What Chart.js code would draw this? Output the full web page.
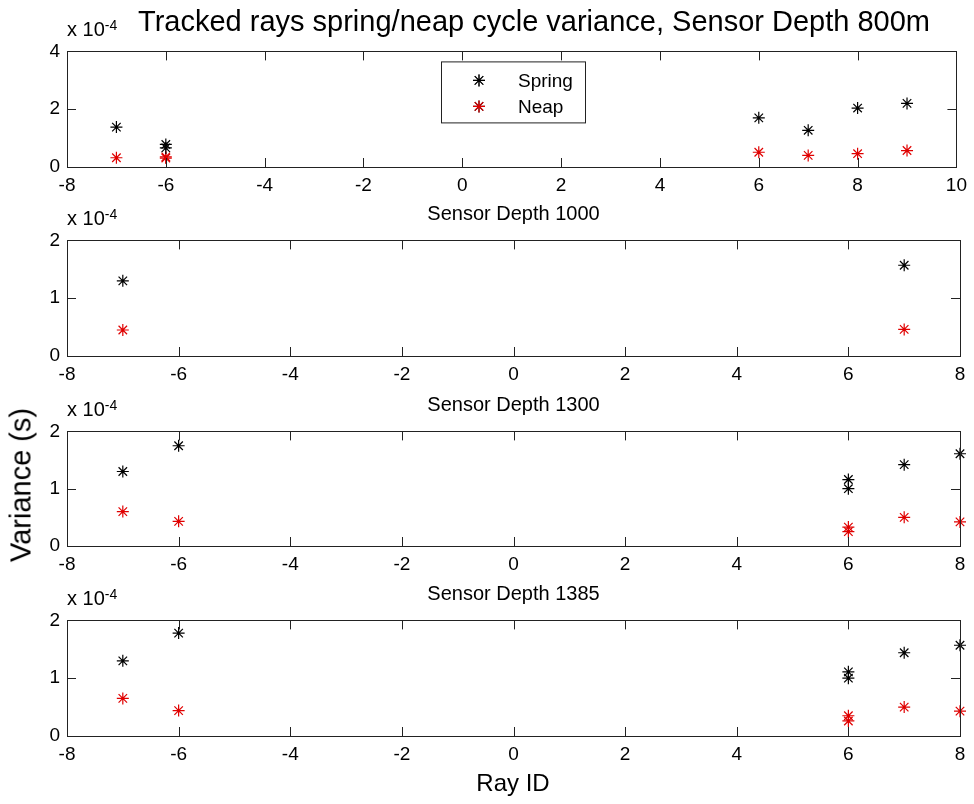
<!DOCTYPE html>
<html>
<head>
<meta charset="utf-8">
<script src="https://cdn.jsdelivr.net/npm/chart.js@4/dist/chart.umd.min.js"></script>
<style>
  html, body { margin: 0; padding: 0; background: #fff; }
  #fig { position: relative; width: 974px; height: 804px; overflow: hidden; font-family: "Liberation Sans", Arial, sans-serif; color: #000; }
  #fig canvas { position: absolute; left: 0; }
  .txt { position: absolute; white-space: nowrap; line-height: 1; }
  .center { transform: translate(-50%, -50%); }
  .mult { line-height: 20px; }
  .mult sup { font-size: 14px; position: relative; top: -4px; vertical-align: top; }
</style>
</head>
<body>
<div id="fig"></div>
<script>
// Ray IDs and variances (units of 1e-4 s) per sensor depth
const RAYS_800   = [-7, -6, -6, 6, 7, 8, 9];
const SPRING_800 = [1.38, 0.78, 0.66, 1.70, 1.27, 2.04, 2.20];
const NEAP_800   = [0.32, 0.35, 0.31, 0.51, 0.40, 0.46, 0.57];

const RAYS_1000   = [-7, 7];
const SPRING_1000 = [1.30, 1.57];
const NEAP_1000   = [0.45, 0.46];

const RAYS_1300   = [-7, -6, 6, 6, 7, 8];
const SPRING_1300 = [1.30, 1.75, 1.16, 1.00, 1.42, 1.61];
const NEAP_1300   = [0.60, 0.43, 0.33, 0.25, 0.50, 0.42];

const RAYS_1385   = [-7, -6, 6, 6, 7, 8];
const SPRING_1385 = [1.30, 1.78, 1.11, 1.00, 1.44, 1.57];
const NEAP_1385   = [0.65, 0.44, 0.35, 0.26, 0.50, 0.43];

// tick labels
const X_TICKS_800 = [-8, -6, -4, -2, 0, 2, 4, 6, 8, 10];
const X_TICKS     = [-8, -6, -4, -2, 0, 2, 4, 6, 8];
const Y_TICKS_800 = [0, 2, 4];
const Y_TICKS     = [0, 1, 2];

const MAIN_TITLE = 'Tracked rays spring/neap cycle variance, Sensor Depth 800m';
const SUB_TITLES = [null, 'Sensor Depth 1000', 'Sensor Depth 1300', 'Sensor Depth 1385'];
const SERIES_NAMES = ['Spring', 'Neap'];

const FONT = '"Liberation Sans", Arial, sans-serif';
const W = 974;
const PLOT_LEFT = 67, PLOT_RIGHT = 960;
const PAD_TOP = 14, AXIS_H = 34, TICK_LEN = 9;

const panels = [
  { top: 47,  h: 120, rays: RAYS_800,  spring: SPRING_800,  neap: NEAP_800,  xt: X_TICKS_800, yt: Y_TICKS_800, legend: true },
  { top: 236, h: 120, rays: RAYS_1000, spring: SPRING_1000, neap: NEAP_1000, xt: X_TICKS,     yt: Y_TICKS },
  { top: 427, h: 119, rays: RAYS_1300, spring: SPRING_1300, neap: NEAP_1300, xt: X_TICKS,     yt: Y_TICKS },
  { top: 616, h: 120, rays: RAYS_1385, spring: SPRING_1385, neap: NEAP_1385, xt: X_TICKS,     yt: Y_TICKS }
];

const fig = document.getElementById('fig');

function addText(html, x, y, size, cls, extra) {
  const d = document.createElement('div');
  d.className = 'txt ' + (cls || '');
  d.style.left = x + 'px';
  d.style.top = y + 'px';
  d.style.fontSize = size + 'px';
  if (extra) d.style.transform = extra;
  d.innerHTML = html;
  fig.appendChild(d);
  return d;
}

// box + inward ticks on all four sides, like MATLAB axes
const matlabAxes = {
  id: 'matlabAxes',
  afterDatasetsDraw(chart) {
    const { ctx, chartArea: a, scales: { x, y } } = chart;
    ctx.save();
    ctx.strokeStyle = '#222';
    ctx.lineWidth = 1;
    ctx.beginPath();
    x.ticks.forEach(t => {
      const px = Math.round(x.getPixelForValue(t.value)) + 0.5;
      ctx.moveTo(px, a.bottom); ctx.lineTo(px, a.bottom - TICK_LEN);
      ctx.moveTo(px, a.top); ctx.lineTo(px, a.top + TICK_LEN);
    });
    y.ticks.forEach(t => {
      const py = Math.round(y.getPixelForValue(t.value)) + 0.5;
      ctx.moveTo(a.left, py); ctx.lineTo(a.left + TICK_LEN, py);
      ctx.moveTo(a.right, py); ctx.lineTo(a.right - TICK_LEN, py);
    });
    ctx.stroke();
    ctx.strokeRect(Math.round(a.left) + 0.5, Math.round(a.top) + 0.5,
                   Math.round(a.right - a.left), Math.round(a.bottom - a.top));
    ctx.restore();
  }
};

// boxed legend inside the top panel
const insideLegend = {
  id: 'insideLegend',
  afterDraw(chart, args, opts) {
    if (!opts.show) return;
    const { ctx, chartArea: a } = chart;
    const bx = a.left + 374, by = a.top + 10, bw = 144, bh = 61;
    ctx.save();
    ctx.fillStyle = '#fff';
    ctx.fillRect(bx, by, bw, bh);
    ctx.strokeStyle = '#222';
    ctx.lineWidth = 1;
    ctx.strokeRect(bx + 0.5, by + 0.5, bw, bh);
    ctx.font = '19px ' + FONT;
    ctx.textBaseline = 'middle';
    ctx.textAlign = 'left';
    chart.data.datasets.forEach((ds, i) => {
      const cy = by + 19 + i * 26;
      Chart.helpers.drawPoint(ctx, {
        pointStyle: ds.pointStyle, radius: ds.pointRadius, borderWidth: ds.borderWidth
      }, bx + 38, cy);
      ctx.strokeStyle = ds.borderColor;
      ctx.lineWidth = ds.borderWidth;
      ctx.stroke();
      ctx.fillStyle = '#000';
      ctx.fillText(ds.label, bx + 77, cy + 1);
    });
    ctx.restore();
  }
};

panels.forEach((p, idx) => {
  const canvas = document.createElement('canvas');
  const ch = p.h + PAD_TOP + AXIS_H;
  canvas.width = W;
  canvas.height = ch;
  canvas.style.top = (p.top - PAD_TOP) + 'px';
  fig.appendChild(canvas);

  const mk = (vals) => p.rays.map((r, i) => ({ x: r, y: vals[i] }));

  new Chart(canvas.getContext('2d'), {
    type: 'scatter',
    data: {
      datasets: [
        { label: SERIES_NAMES[0], data: mk(p.spring), pointStyle: 'star', pointRadius: 6,
          borderColor: '#000', backgroundColor: '#000', borderWidth: 1.2, clip: false },
        { label: SERIES_NAMES[1], data: mk(p.neap), pointStyle: 'star', pointRadius: 6,
          borderColor: '#e00000', backgroundColor: '#e00000', borderWidth: 1.2, clip: false }
      ]
    },
    options: {
      responsive: false,
      animation: false,
      events: [],
      layout: { padding: { top: PAD_TOP, right: W - PLOT_RIGHT, left: 0, bottom: 0 } },
      plugins: {
        legend: { display: false },
        tooltip: { enabled: false },
        insideLegend: { show: !!p.legend }
      },
      scales: {
        x: {
          type: 'linear',
          min: p.xt[0], max: p.xt[p.xt.length - 1],
          afterBuildTicks: (s) => { s.ticks = p.xt.map(v => ({ value: v })); },
          afterFit: (s) => { s.height = AXIS_H; },
          grid: { display: false, drawTicks: false },
          border: { display: false },
          ticks: { color: '#000', font: { family: FONT, size: 19 }, padding: 7, maxRotation: 0, autoSkip: false }
        },
        y: {
          type: 'linear',
          min: p.yt[0], max: p.yt[p.yt.length - 1],
          afterBuildTicks: (s) => { s.ticks = p.yt.map(v => ({ value: v })); },
          afterFit: (s) => { s.width = PLOT_LEFT; },
          grid: { display: false, drawTicks: false },
          border: { display: false },
          ticks: { color: '#000', font: { family: FONT, size: 19 }, padding: 7 }
        }
      }
    },
    plugins: [matlabAxes, insideLegend]
  });

  // exponent label above the y axis
  addText('x 10<sup>-4</sup>', PLOT_LEFT, p.top - 28, 20, 'mult');
  if (SUB_TITLES[idx]) {
    addText(SUB_TITLES[idx], (PLOT_LEFT + PLOT_RIGHT) / 2, p.top - 23, 20, 'center');
  }
});

addText(MAIN_TITLE, 534, 21, 29, 'center');
addText('Ray ID', 513, 783, 24, 'center');
addText('Variance (s)', 21, 485, 29, '', 'translate(-50%, -50%) rotate(-90deg)');
</script>
</body>
</html>
